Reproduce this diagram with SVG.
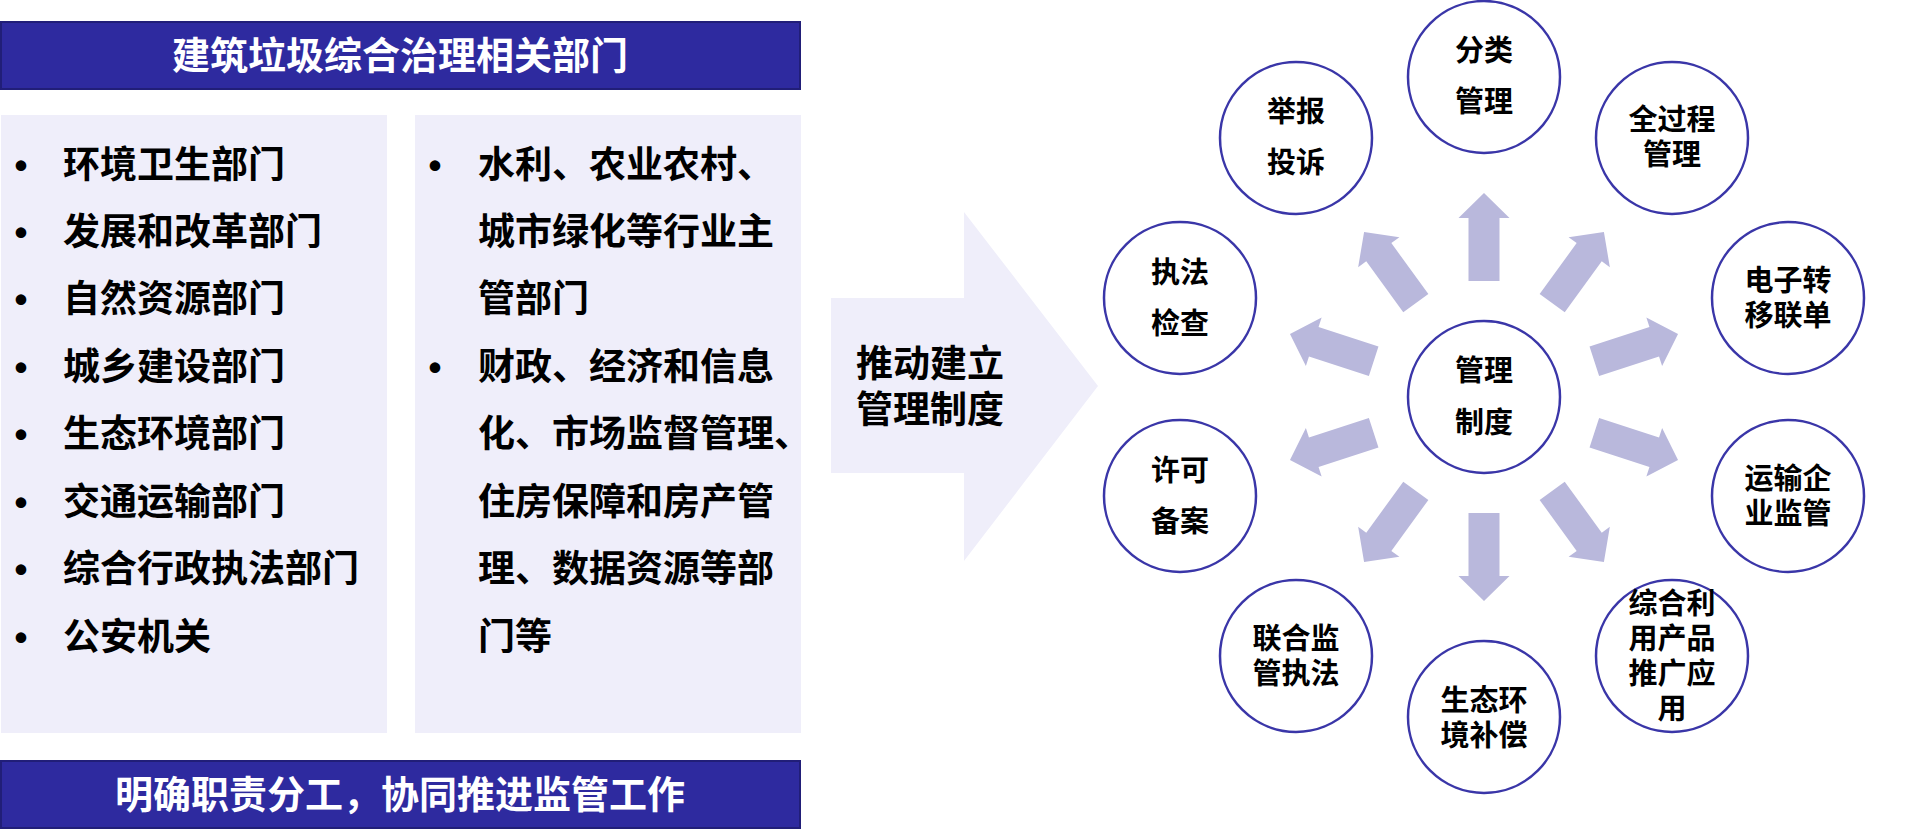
<svg xmlns="http://www.w3.org/2000/svg" width="1930" height="830" viewBox="0 0 1930 830">
<defs>
<style>
.t{font-family:"Liberation Sans","Noto Sans CJK SC",sans-serif;font-weight:bold;dominant-baseline:central}
.bar{fill:#2E2A9F;stroke:#211E78;stroke-width:2}
.bt{fill:#fff;font-size:38px;text-anchor:middle}
.panel{fill:#EFEEFA}
.li{fill:#000;font-size:37px}
.bul{fill:#000;font-size:37px;text-anchor:middle}
.node{fill:#fff;stroke:#3A36A8;stroke-width:2.5}
.nt{fill:#000;font-size:29px;text-anchor:middle}
.arr{fill:#B9B8DC}
</style>
<path id="ar" d="M-15.5,-116 L-15.5,-179 L-25.5,-179 L0,-204 L25.5,-179 L15.5,-179 L15.5,-116 Z"/>
</defs>
<rect width="1930" height="830" fill="#fff"/>

<g id="header">
<rect class="bar" x="1" y="22" width="799" height="67"/>
<text class="t bt" x="400" y="56">建筑垃圾综合治理相关部门</text>
</g>

<g id="left-panel">
<rect class="panel" x="1" y="115" width="386" height="618"/>
<text class="t bul" x="21" y="165">•</text><text class="t li" x="63" y="165">环境卫生部门</text>
<text class="t bul" x="21" y="232">•</text><text class="t li" x="63" y="232">发展和改革部门</text>
<text class="t bul" x="21" y="299">•</text><text class="t li" x="63" y="299">自然资源部门</text>
<text class="t bul" x="21" y="367">•</text><text class="t li" x="63" y="367">城乡建设部门</text>
<text class="t bul" x="21" y="434">•</text><text class="t li" x="63" y="434">生态环境部门</text>
<text class="t bul" x="21" y="502">•</text><text class="t li" x="63" y="502">交通运输部门</text>
<text class="t bul" x="21" y="569">•</text><text class="t li" x="63" y="569">综合行政执法部门</text>
<text class="t bul" x="21" y="637">•</text><text class="t li" x="63" y="637">公安机关</text>
</g>

<g id="right-panel">
<rect class="panel" x="415" y="115" width="386" height="618"/>
<text class="t bul" x="435" y="165">•</text><text class="t li" x="478" y="165">水利、农业农村、</text>
<text class="t li" x="478" y="232">城市绿化等行业主</text>
<text class="t li" x="478" y="299">管部门</text>
<text class="t bul" x="435" y="367">•</text><text class="t li" x="478" y="367">财政、经济和信息</text>
<text class="t li" x="478" y="434">化、市场监督管理、</text>
<text class="t li" x="478" y="502">住房保障和房产管</text>
<text class="t li" x="478" y="569">理、数据资源等部</text>
<text class="t li" x="478" y="637">门等</text>
</g>

<g id="footer">
<rect class="bar" x="1" y="761" width="799" height="67"/>
<text class="t bt" x="400" y="795">明确职责分工，协同推进监管工作</text>
</g>

<g id="big-arrow">
<polygon class="panel" points="831,298 964,298 964,212 1098,386 964,561 964,473 831,473"/>
<text class="t li" x="930" y="364" text-anchor="middle">推动建立</text>
<text class="t li" x="930" y="410" text-anchor="middle">管理制度</text>
</g>

<g id="connectors">
<use href="#ar" class="arr" transform="translate(1484,397) rotate(0)"/>
<use href="#ar" class="arr" transform="translate(1484,397) rotate(36)"/>
<use href="#ar" class="arr" transform="translate(1484,397) rotate(72)"/>
<use href="#ar" class="arr" transform="translate(1484,397) rotate(108)"/>
<use href="#ar" class="arr" transform="translate(1484,397) rotate(144)"/>
<use href="#ar" class="arr" transform="translate(1484,397) rotate(180)"/>
<use href="#ar" class="arr" transform="translate(1484,397) rotate(216)"/>
<use href="#ar" class="arr" transform="translate(1484,397) rotate(252)"/>
<use href="#ar" class="arr" transform="translate(1484,397) rotate(288)"/>
<use href="#ar" class="arr" transform="translate(1484,397) rotate(324)"/>
</g>

<g id="n-center">
<circle class="node" cx="1484" cy="397" r="76"/>
<text class="t nt" x="1484" y="371">管理</text>
<text class="t nt" x="1484" y="423">制度</text>
</g>
<g id="n-fenlei">
<circle class="node" cx="1484" cy="77" r="76"/>
<text class="t nt" x="1484" y="51">分类</text>
<text class="t nt" x="1484" y="102">管理</text>
</g>
<g id="n-quanguocheng">
<circle class="node" cx="1672" cy="138" r="76"/>
<text class="t nt" x="1672" y="120">全过程</text>
<text class="t nt" x="1672" y="155">管理</text>
</g>
<g id="n-dianzi">
<circle class="node" cx="1788" cy="298" r="76"/>
<text class="t nt" x="1788" y="281">电子转</text>
<text class="t nt" x="1788" y="316">移联单</text>
</g>
<g id="n-yunshu">
<circle class="node" cx="1788" cy="496" r="76"/>
<text class="t nt" x="1788" y="479">运输企</text>
<text class="t nt" x="1788" y="514">业监管</text>
</g>
<g id="n-zonghe">
<circle class="node" cx="1672" cy="656" r="76"/>
<text class="t nt" x="1672" y="604">综合利</text>
<text class="t nt" x="1672" y="639">用产品</text>
<text class="t nt" x="1672" y="674">推广应</text>
<text class="t nt" x="1672" y="709">用</text>
</g>
<g id="n-shengtai">
<circle class="node" cx="1484" cy="717" r="76"/>
<text class="t nt" x="1484" y="701">生态环</text>
<text class="t nt" x="1484" y="736">境补偿</text>
</g>
<g id="n-lianhe">
<circle class="node" cx="1296" cy="656" r="76"/>
<text class="t nt" x="1296" y="639">联合监</text>
<text class="t nt" x="1296" y="674">管执法</text>
</g>
<g id="n-xuke">
<circle class="node" cx="1180" cy="496" r="76"/>
<text class="t nt" x="1180" y="471">许可</text>
<text class="t nt" x="1180" y="522">备案</text>
</g>
<g id="n-zhifa">
<circle class="node" cx="1180" cy="298" r="76"/>
<text class="t nt" x="1180" y="273">执法</text>
<text class="t nt" x="1180" y="324">检查</text>
</g>
<g id="n-jubao">
<circle class="node" cx="1296" cy="138" r="76"/>
<text class="t nt" x="1296" y="112">举报</text>
<text class="t nt" x="1296" y="163">投诉</text>
</g>
</svg>
